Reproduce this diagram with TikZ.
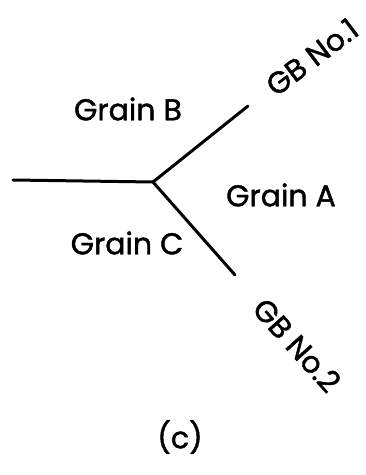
\documentclass[tikz,border=0pt]{standalone}
\usepackage{fontspec}
\setmainfont{Poppins}
\newfontfamily\lblfont{Poppins}[BoldFont=Poppins,BoldFeatures={FakeBold=1.4}]
\begin{document}
\begin{tikzpicture}[x=1pt,y=1pt,
  gb/.style={line width=3pt,line cap=round},
  lbl/.style={font=\lblfont\bfseries\fontsize{30}{33}\selectfont,inner sep=0pt}]
\useasboundingbox (0,0) rectangle (366,475);
\coordinate (j) at (153,293);
\coordinate (l) at (13,295);
\coordinate (u) at (248,369);
\coordinate (d) at (235,200);
\draw[gb] (l) -- (j);
\draw[gb] (j) -- (u);
\draw[gb] (j) -- (d);
\node[lbl] (gB) at (128,366) {Grain B};
\node[lbl] (gA) at (281,280) {Grain A};
\node[lbl] (gC) at (127,232) {Grain C};
\node[lbl,rotate=37] (gb1) at (312,418) {GB No.1};
\node[lbl,rotate=-48] (gb2) at (297,130) {GB No.2};
\node[lbl] (c) at (180,38) {(c)};
\end{tikzpicture}
\end{document}
